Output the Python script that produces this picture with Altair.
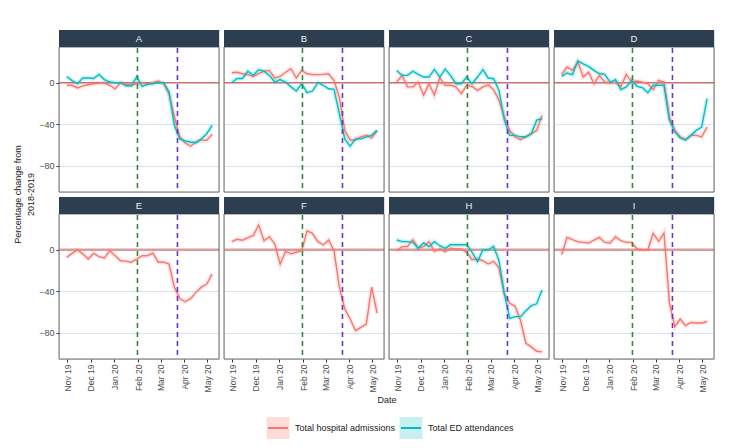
import altair as alt
import pandas as pd

# ---------------- data ----------------
dates = ["2019-10-31", "2019-11-07", "2019-11-14", "2019-11-21", "2019-11-28",
         "2019-12-05", "2019-12-12", "2019-12-19", "2019-12-26", "2020-01-02",
         "2020-01-09", "2020-01-16", "2020-01-23", "2020-01-30", "2020-02-06",
         "2020-02-13", "2020-02-20", "2020-02-27", "2020-03-05", "2020-03-12",
         "2020-03-19", "2020-03-26", "2020-04-02", "2020-04-09", "2020-04-16",
         "2020-04-23", "2020-04-30", "2020-05-07"]

panels = ["A", "B", "C", "D", "E", "F", "H", "I"]
series_names = ["Total hospital admissions", "Total ED attendances"]

adm_A = [-2.5, -2.5, -5, -3, -2, -1, -0.3, -0.3, -2.5, -6, 0, -1.5, -2.5, -1, 0, -1, 0, 1.6, -1, -10.5,
         -33, -52, -58, -61, -57, -55, -55.4, -49.6]
ed_A = [6, 2, -1, 4.5, 4.5, 4, 8, 3, 0.6, 0, 0, -3, -3, 5.5, -3.5, -1.5, -1, 0, 0, -9,
        -41, -54, -56, -57, -57.6, -54, -49, -41]
adm_B = [9.6, 10, 8.6, 7.7, 6, 8.6, 11, 11.8, 4.5, 6, 10, 13.4, 4.5, 11.8, 8.6, 7.7, 7.7, 8, 8.6, 2,
         -14, -46, -55, -55, -52, -50.6, -53, -46]
ed_B = [0, 4, 4, 11, 7, 12.5, 11, 7, 0.6, 3, 0.6, -4, -8, -1, -9.6, -8, 0, -2.5, -5.8, -6.4,
        -30, -54, -61, -54, -54, -52, -50.6, -45.8]
adm_C = [0.6, 7, -4, -4, 0.6, -12, -1, -12, 4.8, -2.5, -2.5, -4, -10.6, -2.5, -3.5, -7.4, -4, -2, -6.7, -17,
         -33, -46, -52, -54.7, -52, -49, -46, -31.4]
ed_C = [11.8, 7, 7, 11, 8, 5.4, 5.4, 12.8, 5.4, 13, 7, -1, -1, 5.4, -1, 5.4, 12.5, 4.5, 3.8, -7.4,
        -36, -50.6, -50.6, -52, -52, -49, -36, -34.6]
adm_D = [7.7, 15, 11.8, 19.8, 5.4, 10, -1, 7, 0.6, -0.3, 0.6, -3.5, 8, 0.6, 1.6, 0.6, -1, -6.7, 2.2, 0.6,
         -33, -46, -52, -54.7, -50.6, -50.6, -52, -42.6]
ed_D = [6, 9.3, 7.7, 20.8, 18, 15.7, 11.8, 8.6, 8, 0.6, 3, -6.7, -4, 2.2, -3.5, -4.8, -9.6, -2.5, -2.5, -2.5,
        -36, -47, -53, -55, -50.6, -45.8, -42.6, -15.4]
adm_E = [-7.4, -3.5, -0.3, -4, -9, -3.5, -6.7, -8, -1, -5.8, -10.6, -11, -12, -9, -5.8, -5.8, -3.2, -12, -12, -13.8,
         -36, -47, -50, -47, -41, -36, -33, -23.4]
adm_F = [7.7, 10, 9, 11.5, 13.4, 23.7, 8.6, 12.5, 5.4, -13.8, -1.6, -4, -2.5, -1, 18, 15.7, 7.7, 4.5, 9.3, -1,
         -36, -57, -66.6, -77.8, -74.6, -71.4, -36, -61]
adm_H = [-1, 2.9, 2.9, 9.6, 1.6, 2.9, 7.7, -1.6, 0.6, -1.9, 1.3, 0.6, 0.6, -2.5, -9.6, -9, -10.6, -13.8, -11.2, -17.6,
         -42.6, -51.5, -54.4, -68, -90, -93.4, -97.6, -98.2]
ed_H = [9.3, 7.7, 7.7, 7, 1.3, 6.4, 2.9, 7.7, 3.8, 1.3, 4.8, 4.8, 4.8, 4.8, -2.5, -11.5, -0.3, -0.3, 3.2, -10.6,
        -42.6, -66, -64.3, -64.3, -58.6, -53.8, -52, -38.7]
adm_I = [-4.8, 11.8, 9.6, 7.7, 7, 6.4, 9.3, 11.8, 7, 6.4, 12.5, 8.6, 7, 7, 0.6, 0, 0, 15.7, 8, 16,
         -50.6, -74, -66.6, -73, -69.8, -70.4, -70.4, -69]

admissions = {"A": adm_A, "B": adm_B, "C": adm_C, "D": adm_D,
              "E": adm_E, "F": adm_F, "H": adm_H, "I": adm_I}
attendances = {"A": ed_A, "B": ed_B, "C": ed_C, "D": ed_D, "H": ed_H}

event_dates = ["2020-01-31", "2020-03-23"]
y_ticks = [-80, -40, 0]
y_title = "Percentage change from\n2018-2019"
x_title = "Date"

# ---------------- styles ----------------
W, H, STRIP, GAP = 160, 162, 17, 5
FONT = "Liberation Sans"
RED, TEAL = "#F8766D", "#00BFC4"
STRIP_COLOR = "#2C3E50"
GRID = "#D6E4F2"
BORDER = "#6E6E6E"
GREEN, PURPLE = "#2E8B3E", "#6B35C9"
TXT = "#4D4D4D"

rows = []
for p in panels:
    for d, v in zip(dates, admissions[p]):
        rows.append({"panel": p, "date": d, "value": v, "series": series_names[0]})
    if p in attendances:
        for d, v in zip(dates, attendances[p]):
            rows.append({"panel": p, "date": d, "value": v, "series": series_names[1]})
df = pd.DataFrame(rows)

y_scale = alt.Scale(domain=[-105, 50.6], nice=False, zero=False)
x_scale = alt.Scale(type="utc", nice=False,
                    domain=[alt.DateTime(year=2019, month=10, date=21, utc=True),
                            alt.DateTime(year=2020, month=5, date=16, utc=True)])
color_scale = alt.Scale(domain=series_names, range=[RED, TEAL])
month_ticks = [alt.DateTime(year=y, month=m, date=1, utc=True)
               for (y, m) in [(2019, 11), (2019, 12), (2020, 1), (2020, 2), (2020, 3), (2020, 4), (2020, 5)]]


def legend_layers():
    out = []
    out.append(alt.Chart(pd.DataFrame({"t": [x_title]})).mark_text(
        fontSize=9, font=FONT, color="#222222", baseline="middle", align="center").encode(
        x=alt.value(328), y=alt.value(H + 41), text="t:N"))
    centers = [219, 352]
    fills = ["#FDDCDA", "#C8F0F1"]
    ly = H + 69
    for name, cx, fc, lc in zip(series_names, centers, fills, [RED, TEAL]):
        sd = pd.DataFrame({"series": [name]})
        out.append(alt.Chart(sd).mark_rect(color=fc).encode(
            x=alt.value(cx - 11.5), x2=alt.value(cx + 11.5), y=alt.value(ly - 11), y2=alt.value(ly + 11)))
        out.append(alt.Chart(sd).mark_rule(color=lc, strokeWidth=2).encode(
            x=alt.value(cx - 10), x2=alt.value(cx + 10), y=alt.value(ly)))
        out.append(alt.Chart(sd).mark_text(fontSize=9, font=FONT, color="#222222",
                                           align="left", baseline="middle").encode(
            x=alt.value(cx + 17), y=alt.value(ly), text="series:N"))
    return out


def make_panel(p, first_col, bottom_row):
    d = df[df.panel == p]
    yaxis = alt.Axis(values=y_ticks, grid=True, gridColor=GRID, gridWidth=1,
                     labels=first_col, ticks=first_col, domain=False, title=None,
                     tickSize=3, tickColor="#333333", labelPadding=2,
                     labelFontSize=9, labelColor=TXT, labelFont=FONT)
    if bottom_row:
        xaxis = alt.Axis(values=month_ticks, format="%b %y", labelAngle=270, grid=False,
                         domain=False, title=None, tickSize=3, tickColor="#333333",
                         labelPadding=2, labelFontSize=8.5, labelColor=TXT, labelFont=FONT)
    else:
        xaxis = None
    x = alt.X("date:T", scale=x_scale, axis=xaxis)
    y = alt.Y("value:Q", scale=y_scale, axis=yaxis)
    col = alt.Color("series:N", scale=color_scale, legend=None)

    halo = alt.Chart(d).mark_line(strokeWidth=4.5, opacity=0.18).encode(x=x, y=y, color=col)
    lines = alt.Chart(d).mark_line(strokeWidth=1.4).encode(x=x, y=y, color=col)

    zero_df = pd.DataFrame({"v": [0]})
    if bottom_row:
        hline = alt.Chart(zero_df).mark_rule(color="#DB9C9C", strokeWidth=2.5)
    else:
        hline = alt.Chart(zero_df).mark_rule(color="#D03B2F", strokeWidth=1.1)
    hline = hline.encode(y=alt.Y("v:Q", scale=y_scale, axis=yaxis))

    ev_green = alt.Chart(pd.DataFrame({"date": [event_dates[0]]})).mark_rule(
        color=GREEN, strokeDash=[5, 4], strokeWidth=1.6).encode(
        x=alt.X("date:T", scale=x_scale, axis=xaxis))
    ev_purple = alt.Chart(pd.DataFrame({"date": [event_dates[1]]})).mark_rule(
        color=PURPLE, strokeDash=[5, 4], strokeWidth=1.6).encode(
        x=alt.X("date:T", scale=x_scale, axis=xaxis))

    lab = pd.DataFrame({"panel": [p]})
    border = alt.Chart(lab).mark_rect(filled=False, stroke=BORDER, strokeWidth=1).encode(
        x=alt.value(0), x2=alt.value(W), y=alt.value(STRIP), y2=alt.value(H))
    strip = alt.Chart(lab).mark_rect(color=STRIP_COLOR).encode(
        x=alt.value(0), x2=alt.value(W), y=alt.value(0), y2=alt.value(STRIP))
    strip_txt = alt.Chart(lab).mark_text(color="#F0F0F0", fontSize=9.5, font=FONT,
                                         baseline="middle", align="center").encode(
        x=alt.value(W / 2), y=alt.value(STRIP / 2 + 0.5), text="panel:N")

    layers = [hline, halo, lines, ev_green, ev_purple, border, strip, strip_txt]
    if p == "A":
        ttl = alt.Chart(pd.DataFrame({"t": [y_title]})).mark_text(
            angle=270, fontSize=9, font=FONT, color="#222222", lineBreak="\n",
            lineHeight=12.5, align="center", baseline="middle").encode(
            x=alt.value(-41), y=alt.value(H + 2.5), text="t:N")
        layers.append(ttl)
    if p == "E":
        layers.extend(legend_layers())
    return alt.layer(*layers).properties(width=W, height=H)


cells = [make_panel(p, i % 4 == 0, i >= 4) for i, p in enumerate(panels)]

chart = alt.concat(*cells, columns=4, spacing=GAP, bounds="flush").properties(
    padding={"left": 5, "top": 20, "right": 5, "bottom": 0}
).configure_view(stroke="transparent").configure(font=FONT)

chart.save("out.html", embed_options={"renderer": "svg", "actions": False})
